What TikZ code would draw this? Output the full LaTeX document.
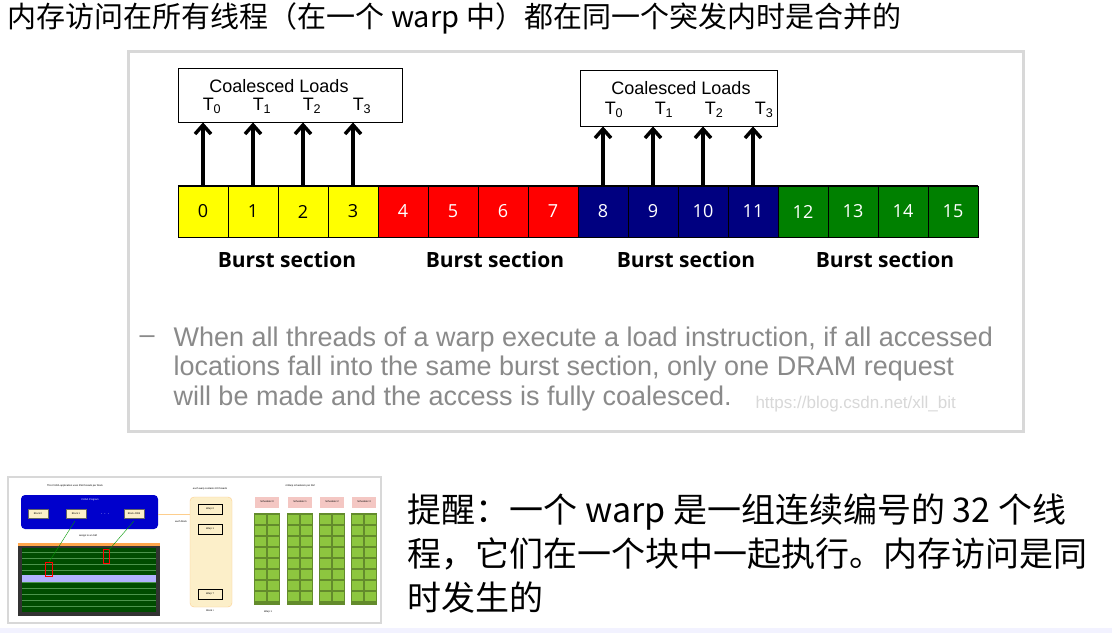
\documentclass[tikz,border=0pt]{standalone}
\usepackage{fontspec}
\setmainfont{Liberation Sans}
\newfontfamily\cjk{Noto Sans CJK SC}
\newfontfamily\cellfont{Open Sans}
\usetikzlibrary{arrows.meta, positioning, calc}
\definecolor{CellYellow}{HTML}{FFFF00}
\definecolor{CellRed}{HTML}{FF0000}
\definecolor{CellBlue}{HTML}{000080}
\definecolor{CellGreen}{HTML}{008000}
\definecolor{FrameGray}{HTML}{D8D8D8}
\definecolor{NoteGray}{HTML}{8A8A8A}
\definecolor{SchedPink}{HTML}{F4C7C3}
\definecolor{WarpCream}{HTML}{FCEFC9}
\definecolor{CoreGreen}{HTML}{8DC63F}

\begin{document}
\begin{tikzpicture}[x=1pt, y=-1pt,
    cell/.style={rectangle, draw=black, minimum width=50pt, minimum height=51pt,
                 inner sep=0pt, font=\cellfont\fontsize{18}{18}\selectfont},
    loadbox/.style={rectangle, draw=black, thick, fill=white, inner sep=0pt},
    burst/.style={font=\cellfont\fontsize{21}{21}\selectfont\bfseries},
    load/.style={-{Straight Barb[length=9pt,width=16pt]}, line width=3.5pt},
    note/.style={anchor=west, text=NoteGray, font=\fontsize{27}{27}\selectfont}
]
    \useasboundingbox (0,0) rectangle (1112,633);
    \fill[white] (0,0) rectangle (1112,633);

    % title
    \node[anchor=west, font=\cjk\fontsize{29}{29}\selectfont] (title) at (4,18)
        {内存访问在所有线程（在一个 warp 中）都在同一个突发内时是合并的};

    % slide frame
    \draw[FrameGray, line width=3pt] (128,51) rectangle (1023,431);

    % memory cells
    \foreach \i in {0,...,15} {
        \pgfmathtruncatemacro{\sec}{int(\i/4)}
        \ifcase\sec \def\cc{CellYellow}\def\tc{black}
        \or \def\cc{CellRed}\def\tc{white}
        \or \def\cc{CellBlue}\def\tc{white}
        \or \def\cc{CellGreen}\def\tc{white}\fi
        \node[cell, fill=\cc, text=\tc] (c\i) at (203+50*\i,211.5) {\i};
    }
    \draw[line width=1.5pt] (c0.north west) -- (c15.north east);

    % coalesced load boxes
    \node[loadbox, minimum width=224pt, minimum height=54pt] (loadA) at (290,95) {};
    \node[loadbox, minimum width=197pt, minimum height=56pt] (loadB) at (678.5,98) {};
    \node[font=\fontsize{18}{18}\selectfont] at (279,86) {Coalesced Loads};
    \node[font=\fontsize{18}{18}\selectfont] at (681,88) {Coalesced Loads};
    \foreach \t [evaluate=\t as \xa using 203+50*\t, evaluate=\t as \xb using 603+50*\t] in {0,...,3} {
        \node[font=\fontsize{18}{18}\selectfont] at (\xa+9,106) {T\textsubscript{\t}};
        \node[font=\fontsize{18}{18}\selectfont] at (\xb+11,110) {T\textsubscript{\t}};
    }
    \foreach \i in {0,...,3} \draw[load] (c\i.north) -- (c\i.north |- loadA.south);
    \foreach \i in {8,...,11} \draw[load] (c\i.north) -- (c\i.north |- loadB.south);

    % burst sections
    \foreach \x in {287,495,686,885}
        \node[burst] at (\x,260) {Burst section};

    % note
    \node[note] at (136,340) {–};
    \node[note] at (170,340) {When all threads of a warp execute a load instruction, if all accessed};
    \node[note] at (170,369) {locations fall into the same burst section, only one DRAM request};
    \node[note] at (170,399) {will be made and the access is fully coalesced.};
    \node[anchor=west, text=FrameGray, font=\fontsize{17}{17}\selectfont] at (752,404)
        {https://blog.csdn.net/xll\_bit};

    % thumbnail
    \draw[FrameGray, line width=2pt, fill=white] (8,477) rectangle (381,623);
    \begin{scope}[font=\fontsize{2.5}{2.5}\selectfont]
        \node at (75,486) {This CUDA application uses 256 threads per block};
        \fill[blue!80!black, rounded corners=4pt] (21,495) rectangle (158,529);
        \node[white] at (90,500) {CUDA Program};
        \foreach \x/\b in {38/Block 0, 76/Block 1, 134/Block 4095}
            \node[draw=black!60, fill=WarpCream, minimum width=20pt, minimum height=9pt, inner sep=0pt] at (\x,514) {\b};
        \node[white, font=\fontsize{6}{6}\selectfont] at (105,514) {$\cdots$};
        \fill[black!80] (18,543) rectangle (160,616);
        \fill[black!50!green!60!black] (22,548) rectangle (156,612);
        \foreach \y in {552,558,...,606} \draw[green!40!black!70, line width=0.3pt] (22,\y) -- (156,\y);
        \fill[orange!70] (18,543) rectangle (160,546);
        \fill[blue!30] (22,575) rectangle (156,582);
        \draw[red] (45,562) rectangle (52,576);
        \draw[red] (103,549) rectangle (109,563);
        \draw[green!60!black] (75,521) -- (49,562);
        \draw[green!60!black] (134,521) -- (108,551);
        \node at (88,536) {assign to an SM};
        \draw[WarpCream!70!orange] (158,514) -- (190,514);
        \fill[WarpCream, draw=WarpCream!70!orange, rounded corners=4pt] (190,497) rectangle (232,607);
        \node at (210,489) {each warp contains 32 threads};
        \node[draw, fill=WarpCream, minimum width=24pt, minimum height=10pt, inner sep=0pt] at (210,509) {Warp 0};
        \node[draw, fill=WarpCream, minimum width=24pt, minimum height=10pt, inner sep=0pt] at (210,529) {Warp 1};
        \node[draw, fill=WarpCream, minimum width=24pt, minimum height=10pt, inner sep=0pt] at (210,594) {Warp 7};
        \node at (210,611) {Block i};
        \node at (181,522) {each block};
        \node at (300,486) {4 Warp schedulers per SM};
        \foreach \x/\k in {267/0, 300/1, 332/2, 364/3} {
            \node[fill=SchedPink, minimum width=24pt, minimum height=11pt, inner sep=0pt] at (\x,502) {Scheduler \k};
            \fill[CoreGreen!70!black] (\x-13,513) rectangle (\x+13,605);
            \foreach \r in {0,...,7} {
                \fill[CoreGreen] (\x-12,515+11*\r) rectangle (\x-1,524+11*\r);
                \fill[CoreGreen] (\x+1,515+11*\r) rectangle (\x+12,524+11*\r);
            }
        }
        \node at (268,612) {Warp 1};
    \end{scope}

    % reminder text
    \begin{scope}[font=\cjk\fontsize{34}{34}\selectfont]
        \node[anchor=west] at (404,512) {提醒：一个 warp 是一组连续编号的 32 个线};
        \node[anchor=west] at (404,554) {程，它们在一个块中一起执行。内存访问是同};
        \node[anchor=west] at (404,598) {时发生的};
    \end{scope}

    \fill[blue!5] (0,628) rectangle (1112,633);
\end{tikzpicture}
\end{document}
